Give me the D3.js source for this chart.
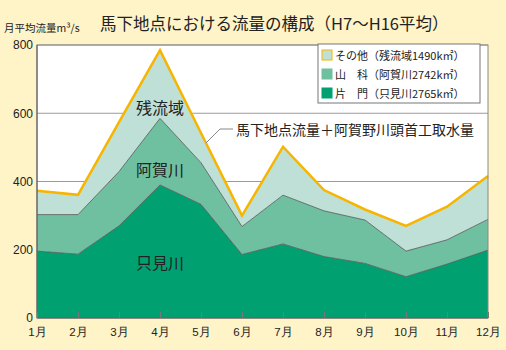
<!DOCTYPE html>
<html><head><meta charset="utf-8">
<script src="https://cdn.jsdelivr.net/npm/d3@7"></script>
<style>
html,body{margin:0;padding:0;background:#FFF3C8;}
svg{display:block;font-family:"Noto Sans CJK JP","Noto Sans",sans-serif;}
</style></head>
<body><svg id="c" width="506" height="350"></svg>
<script>
const months = ["1月","2月","3月","4月","5月","6月","7月","8月","9月","10月","11月","12月"];
const katakado = [196,187,270,390,333,186,217,180,160,121,158,199];   // 片門（只見川）
const yamashina = [107,116,159,195,122,82,143,134,127,75,71,90];      // 山科（阿賀川）
const sonota = [70,58,145,200,87,32,142,61,31,74,97,127];             // その他（残流域）
const yTicks = [0,200,400,600,800];
const seriesNames = ["katakado","yamashina","sonota"];
const legendLabels = ["その他（残流域1490k㎡）","山　科（阿賀川2742k㎡）","片　門（只見川2765k㎡）"];
const areaLabels = ["只見川","阿賀川","残流域"];
const colors = {katakado:"#00A070", yamashina:"#6EC0A0", sonota:"#BEE0D6"};

const svg = d3.select("#c");
const L=37,R=488,T=45,B=318;
const x = d3.scalePoint().domain(months).range([L,R]);
const y = d3.scaleLinear().domain([0,800]).range([B,T]);

const rows = months.map((m,i)=>({m, katakado:katakado[i], yamashina:yamashina[i], sonota:sonota[i]}));
const stack = d3.stack().keys(seriesNames)(rows);

// plot background
svg.append("rect").attr("x",L).attr("y",T).attr("width",R-L).attr("height",B-T).attr("fill","#fff");

// grid lines
svg.append("g").selectAll("line").data(yTicks.filter(d=>d>0)).join("line")
  .attr("x1",L).attr("x2",R).attr("y1",d=>y(d)).attr("y2",d=>y(d))
  .attr("stroke","#9a9a9a").attr("stroke-width",1);

// areas
const area = d3.area().x((d,i)=>x(months[i])).y0(d=>y(d[0])).y1(d=>y(d[1]));
svg.append("g").selectAll("path").data(stack).join("path")
  .attr("d",area).attr("fill",d=>colors[d.key]);
// boundary lines between areas
const bline = d3.line().x((d,i)=>x(months[i])).y(d=>y(d[1]));
svg.append("g").selectAll("path").data(stack.slice(0,2)).join("path")
  .attr("d",bline).attr("fill","none").attr("stroke","#555").attr("stroke-width",0.8);
// total orange line
svg.append("path").datum(stack[2]).attr("d",bline).attr("fill","none")
  .attr("stroke","#F7B500").attr("stroke-width",2.5).attr("stroke-linejoin","miter");

// frame
svg.append("rect").attr("x",L).attr("y",T).attr("width",R-L).attr("height",B-T)
  .attr("fill","none").attr("stroke","#8a8a8a").attr("stroke-width",1);
svg.append("line").attr("x1",L).attr("x2",L).attr("y1",T).attr("y2",B).attr("stroke","#555");
svg.append("line").attr("x1",L).attr("x2",R).attr("y1",B).attr("y2",B).attr("stroke","#555");

// axes
const yAxis = d3.axisLeft(y).tickValues(yTicks).tickSize(0).tickPadding(4);
const gy = svg.append("g").attr("transform",`translate(${L},0)`).call(yAxis);
gy.select(".domain").remove();
gy.selectAll("text").attr("font-size",12).attr("fill","#222").attr("font-family","Liberation Sans, Arial, sans-serif");

const xAxis = d3.axisBottom(x).tickSize(-6).tickPadding(10);
const gx = svg.append("g").attr("transform",`translate(0,${B})`).call(xAxis);
gx.select(".domain").remove();
gx.selectAll(".tick line").attr("stroke","#777");
gx.selectAll("text").attr("font-size",11.5).attr("fill","#222");

// titles
svg.append("text").attr("x",100).attr("y",30).attr("font-size",16.5).attr("fill","#222")
  .text("馬下地点における流量の構成（H7～H16平均）");
svg.append("text").attr("x",4).attr("y",32).attr("font-size",10.5).attr("fill","#222")
  .text("月平均流量m³/s");

// area labels
const labelPos = [[3,(katakado[3]*0)+120],[3,null],[3,null]];
svg.append("text").attr("x",x("4月")).attr("y",269).attr("text-anchor","middle")
  .attr("font-size",16).attr("fill","#222").text(areaLabels[0]);
svg.append("text").attr("x",x("4月")).attr("y",176).attr("text-anchor","middle")
  .attr("font-size",16).attr("fill","#222").text(areaLabels[1]);
svg.append("text").attr("x",x("4月")).attr("y",114).attr("text-anchor","middle")
  .attr("font-size",16).attr("fill","#222").text(areaLabels[2]);

// annotation
svg.append("path").attr("d","M206,143 L220,129 L233,129").attr("fill","none").attr("stroke","#888").attr("stroke-width",1);
svg.append("text").attr("x",236).attr("y",135).attr("font-size",14).attr("fill","#222")
  .text("馬下地点流量＋阿賀野川頭首工取水量");

// legend
const lg = svg.append("g");
lg.append("rect").attr("x",318).attr("y",44).attr("width",162).attr("height",59)
  .attr("fill","#fff").attr("stroke","#777");
const legKeys = ["sonota","yamashina","katakado"];
legKeys.forEach((k,i)=>{
  const yy = 50 + i*19;
  lg.append("rect").attr("x",322).attr("y",yy).attr("width",10).attr("height",10)
    .attr("fill",colors[k]).attr("stroke",k==="sonota"?"#F7B500":colors[k]).attr("stroke-width",1);
  lg.append("text").attr("x",335).attr("y",yy+9.5).attr("font-size",11).attr("fill","#222")
    .text(legendLabels[i]);
});
</script></body></html>
